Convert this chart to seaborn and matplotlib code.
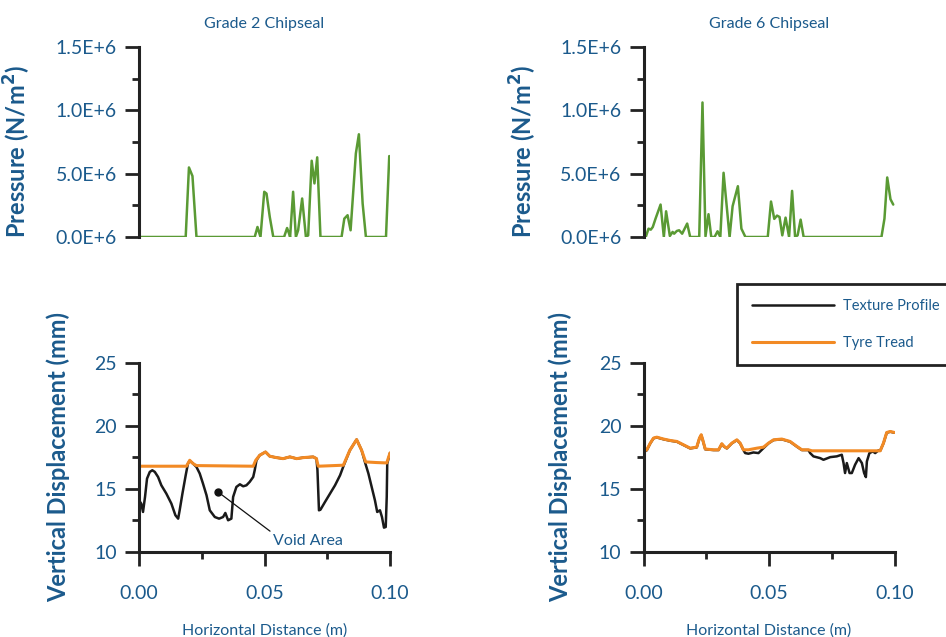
import numpy as np
import pandas as pd
import matplotlib
matplotlib.use("Agg")
import matplotlib.pyplot as plt
from matplotlib.ticker import MultipleLocator
import seaborn as sns

# --- Daten ---
# Druckverteilung, Grade 2 (x in m, Druck in 1E+6 N/m^2)
g2_x = [0.0000, 0.0186, 0.0199, 0.0213, 0.0229, 0.0461, 0.0472, 0.0484, 0.0499, 0.0508,
        0.0521, 0.0535, 0.0578, 0.0590, 0.0598, 0.0602, 0.0614, 0.0625, 0.0634, 0.0650,
        0.0665, 0.0674, 0.0688, 0.0699, 0.0710, 0.0723, 0.0807, 0.0818, 0.0831, 0.0843,
        0.0864, 0.0876, 0.0891, 0.0904, 0.0984, 0.0997]
g2_p = [0.0, 0.0, 0.549, 0.481, 0.0, 0.0, 0.079, 0.0, 0.357, 0.343,
        0.158, 0.0, 0.0, 0.071, 0.026, 0.0, 0.357, 0.0, 0.053, 0.304,
        0.0, 0.013, 0.602, 0.423, 0.629, 0.0, 0.0, 0.145, 0.172, 0.053,
        0.660, 0.811, 0.264, 0.0, 0.0, 0.639]

# Druckverteilung, Grade 6
g6_x = [0.0000, 0.0009, 0.0020, 0.0029, 0.0037, 0.0048, 0.0068, 0.0081, 0.0090, 0.0105,
        0.0116, 0.0122, 0.0133, 0.0142, 0.0154, 0.0174, 0.0186, 0.0222, 0.0235, 0.0247,
        0.0259, 0.0270, 0.0283, 0.0295, 0.0306, 0.0319, 0.0343, 0.0355, 0.0376, 0.0390,
        0.0406, 0.0495, 0.0508, 0.0521, 0.0532, 0.0542, 0.0553, 0.0566, 0.0580, 0.0592,
        0.0604, 0.0614, 0.0626, 0.0638, 0.0948, 0.0960, 0.0971, 0.0984, 0.0995]
g6_p = [0.0, 0.0, 0.066, 0.058, 0.079, 0.145, 0.256, 0.0, 0.203, 0.008,
        0.040, 0.026, 0.048, 0.053, 0.026, 0.106, 0.0, 0.0, 1.062, 0.005,
        0.180, 0.0, 0.0, 0.045, 0.0, 0.507, 0.0, 0.243, 0.401, 0.066,
        0.0, 0.0, 0.280, 0.143, 0.169, 0.158, 0.013, 0.153, 0.0, 0.364,
        0.0, 0.013, 0.137, 0.0, 0.0, 0.145, 0.470, 0.298, 0.256]

# Oberflaechenprofil und Reifenlauflaeche, Grade 2 (mm)
g2_tex_x = [0.0000, 0.0009, 0.0016, 0.0024, 0.0032, 0.0043, 0.0053, 0.0063, 0.0076, 0.0089,
            0.0109, 0.0129, 0.0145, 0.0156, 0.0162, 0.0173, 0.0186, 0.0195, 0.0202, 0.0213,
            0.0229, 0.0242, 0.0255, 0.0269, 0.0282, 0.0302, 0.0319, 0.0335, 0.0344, 0.0355,
            0.0368, 0.0375, 0.0388, 0.0402, 0.0415, 0.0428, 0.0441, 0.0455, 0.0461, 0.0468,
            0.0481, 0.0504, 0.0521, 0.0548, 0.0574, 0.0601, 0.0628, 0.0654, 0.0694, 0.0707,
            0.0711, 0.0717, 0.0723, 0.0741, 0.0761, 0.0781, 0.0801, 0.0816, 0.0840, 0.0867,
            0.0887, 0.0900, 0.0914, 0.0927, 0.0940, 0.0949, 0.0960, 0.0968, 0.0976, 0.0983,
            0.0987, 0.0989, 0.1000]
g2_tex_y = [14.09, 13.83, 13.17, 14.36, 15.81, 16.34, 16.47, 16.34, 15.94, 15.28,
            14.62, 13.83, 12.91, 12.64, 13.30, 14.62, 16.07, 17.00, 17.21, 17.05,
            16.73, 16.21, 15.41, 14.49, 13.30, 12.77, 12.64, 12.77, 13.09, 12.51,
            12.64, 14.36, 15.15, 15.36, 15.20, 15.28, 15.55, 15.94, 16.47, 17.26,
            17.66, 17.92, 17.58, 17.47, 17.39, 17.53, 17.39, 17.47, 17.53, 17.39,
            16.47, 13.30, 13.35, 13.96, 14.62, 15.28, 16.07, 16.87, 18.05, 18.90,
            18.05, 17.13, 16.21, 15.15, 14.09, 13.17, 13.30, 12.77, 11.93, 11.98,
            14.36, 17.00, 17.84]
g2_tread_x = [0.0000, 0.0189, 0.0202, 0.0215, 0.0229, 0.0455, 0.0465, 0.0481, 0.0504, 0.0521,
              0.0548, 0.0574, 0.0601, 0.0628, 0.0654, 0.0694, 0.0707, 0.0714, 0.0814, 0.0840,
              0.0867, 0.0887, 0.0903, 0.0947, 0.0987, 0.1000]
g2_tread_y = [16.79, 16.79, 17.26, 17.00, 16.84, 16.79, 17.26, 17.66, 17.92, 17.58,
              17.47, 17.39, 17.53, 17.39, 17.47, 17.53, 17.39, 16.79, 16.87, 18.05,
              18.90, 18.05, 17.13, 17.08, 17.05, 17.84]

# Grade 6
g6_tread_x = [0.0000, 0.0013, 0.0027, 0.0040, 0.0053, 0.0080, 0.0106, 0.0133, 0.0159, 0.0186,
              0.0212, 0.0223, 0.0230, 0.0236, 0.0246, 0.0279, 0.0299, 0.0312, 0.0321, 0.0332,
              0.0352, 0.0372, 0.0385, 0.0398, 0.0418, 0.0452, 0.0478, 0.0498, 0.0518, 0.0551,
              0.0584, 0.0611, 0.0631, 0.0657, 0.0671, 0.0943, 0.0956, 0.0969, 0.0983, 0.1000]
g6_tread_y = [17.96, 18.09, 18.62, 19.02, 19.09, 18.94, 18.83, 18.75, 18.49, 18.22,
              18.30, 19.02, 19.28, 18.88, 18.15, 18.09, 18.09, 18.57, 18.36, 18.22,
              18.62, 18.88, 18.62, 18.09, 18.09, 18.22, 18.30, 18.62, 18.88, 18.94,
              18.75, 18.36, 18.09, 18.09, 18.01, 18.01, 18.62, 19.46, 19.54, 19.46]
g6_tex_x = [0.0000, 0.0013, 0.0027, 0.0040, 0.0053, 0.0080, 0.0106, 0.0133, 0.0159, 0.0186,
            0.0212, 0.0223, 0.0230, 0.0236, 0.0246, 0.0279, 0.0299, 0.0312, 0.0321, 0.0332,
            0.0352, 0.0372, 0.0385, 0.0398, 0.0405, 0.0418, 0.0438, 0.0458, 0.0478, 0.0498,
            0.0518, 0.0551, 0.0584, 0.0611, 0.0631, 0.0657, 0.0664, 0.0677, 0.0704, 0.0717,
            0.0744, 0.0770, 0.0790, 0.0797, 0.0803, 0.0810, 0.0821, 0.0830, 0.0843, 0.0857,
            0.0870, 0.0879, 0.0886, 0.0890, 0.0900, 0.0914, 0.0923, 0.0936, 0.0943, 0.0956,
            0.0969, 0.0983, 0.1000]
g6_tex_y = [17.90, 18.05, 18.60, 19.00, 19.07, 18.92, 18.81, 18.73, 18.47, 18.20,
            18.28, 19.00, 19.26, 18.86, 18.13, 18.07, 18.07, 18.55, 18.34, 18.20,
            18.60, 18.86, 18.60, 18.07, 17.83, 17.78, 17.88, 17.83, 18.22, 18.60,
            18.86, 18.92, 18.73, 18.34, 18.07, 18.07, 17.83, 17.57, 17.43, 17.30,
            17.51, 17.57, 17.70, 17.04, 16.25, 17.04, 16.25, 16.25, 16.91, 17.43,
            17.04, 16.25, 15.93, 17.17, 17.83, 17.96, 17.83, 18.04, 18.01, 18.60,
            19.44, 19.52, 19.44]

titles = ["Grade 2 Chipseal", "Grade 6 Chipseal"]
p_ticks = [0.0, 0.5e6, 1.0e6, 1.5e6]
p_ticklabels = ["0.0E+6", "5.0E+6", "1.0E+6", "1.5E+6"]
d_ticks = [10, 15, 20, 25]
x_ticks = [0.0, 0.05, 0.1]
x_ticklabels = ["0.00", "0.05", "0.10"]

BLAU = "#1b5a8c"
GRUEN = "#5a9a34"
ORANGE = "#f28a24"
SCHRIFT = ["Lato", "DejaVu Sans"]

sns.set_style("ticks")
plt.rcParams["font.family"] = SCHRIFT

fig = plt.figure(figsize=(9.46, 6.37), dpi=100)
W, H = 946, 637


def achse(x0, y0, x1, y1):
    return fig.add_axes([x0 / W, 1 - y1 / H, (x1 - x0) / W, (y1 - y0) / H])


def stil(ax):
    for s in ["top", "right"]:
        ax.spines[s].set_visible(False)
    for s in ["left", "bottom"]:
        ax.spines[s].set_linewidth(2.2)
        ax.spines[s].set_color("#222222")
    ax.tick_params(which="major", direction="out", length=10, width=2, color="#222222",
                   labelsize=14, labelcolor=BLAU, pad=6)
    ax.tick_params(which="minor", direction="out", length=5, width=2, color="#222222")


ax_p = [achse(139, 47, 390, 237), achse(643.5, 47, 894.5, 237)]
ax_d = [achse(139, 362.5, 390, 552), achse(643.5, 362.5, 894.5, 552)]

druck = [(g2_x, g2_p), (g6_x, g6_p)]
profil = [(g2_tex_x, g2_tex_y, g2_tread_x, g2_tread_y),
          (g6_tex_x, g6_tex_y, g6_tread_x, g6_tread_y)]
# rechte Kante der gedrehten Achsenbeschriftung (Achsenkoordinaten)
p_label_x = [-0.422, -0.416]
d_label_x = [-0.275, -0.285]

for i in range(2):
    # Druck oben
    ax = ax_p[i]
    df = pd.DataFrame({"x": druck[i][0], "p": np.array(druck[i][1]) * 1e6})
    sns.lineplot(data=df, x="x", y="p", ax=ax, color=GRUEN, linewidth=1.8, estimator=None)
    stil(ax)
    ax.spines["bottom"].set_visible(False)
    ax.set_xlim(0, 0.1)
    ax.set_ylim(0, 1.5e6)
    ax.set_xticks([])
    ax.set_yticks(p_ticks)
    ax.set_yticklabels(p_ticklabels)
    ax.yaxis.set_minor_locator(MultipleLocator(0.25e6))
    ax.set_xlabel("")
    ax.set_ylabel("Pressure (N/m$^\\mathbf{2}$)", fontsize=17, fontweight="bold", color=BLAU)
    ax.yaxis.set_label_coords(p_label_x[i], 0.45)
    ax.set_title(titles[i], fontsize=11.5, color=BLAU, pad=14)

    # Profil unten
    ax = ax_d[i]
    tx, ty, rx, ry = profil[i]
    sns.lineplot(x=tx, y=ty, ax=ax, color="#1a1a1a", linewidth=1.8, estimator=None,
                 sort=False, label="Texture Profile")
    sns.lineplot(x=rx, y=ry, ax=ax, color=ORANGE, linewidth=2.2, estimator=None,
                 sort=False, label="Tyre Tread")
    stil(ax)
    ax.set_xlim(0, 0.1)
    ax.set_ylim(10, 25)
    ax.set_xticks(x_ticks)
    ax.set_xticklabels(x_ticklabels)
    ax.set_yticks(d_ticks)
    ax.xaxis.set_minor_locator(MultipleLocator(0.025))
    ax.yaxis.set_minor_locator(MultipleLocator(2.5))
    ax.tick_params(axis="x", pad=14)
    ax.set_xlabel("Horizontal Distance (m)", fontsize=11.5, color=BLAU, labelpad=15)
    ax.set_ylabel("Vertical Displacement (mm)", fontsize=17, fontweight="bold", color=BLAU)
    ax.yaxis.set_label_coords(d_label_x[i], 0.5)
    handles, labels = ax.get_legend_handles_labels()
    ax.get_legend().remove()

# Void Area Beschriftung
ax = ax_d[0]
ax.plot([0.0315], [14.75], "o", color="#111111", markersize=5)
ax.annotate("Void Area", xy=(0.0315, 14.75), xytext=(0.0535, 10.9),
            fontsize=11.5, color=BLAU, ha="left", va="center",
            arrowprops=dict(arrowstyle="-", color="#111111", linewidth=0.9,
                            relpos=(0, 1), shrinkA=0, shrinkB=2))

leg = fig.legend(handles, labels, loc="upper left",
                 bbox_to_anchor=(737 / W, 1 - 284 / H), fontsize=10.5,
                 handlelength=5.6, handletextpad=0.6, labelspacing=1.55,
                 borderpad=1.05, fancybox=False, framealpha=1, borderaxespad=0)
leg.get_frame().set_edgecolor("#222222")
leg.get_frame().set_linewidth(2)
for t in leg.get_texts():
    t.set_color(BLAU)

fig.savefig("out.png", dpi=100)
